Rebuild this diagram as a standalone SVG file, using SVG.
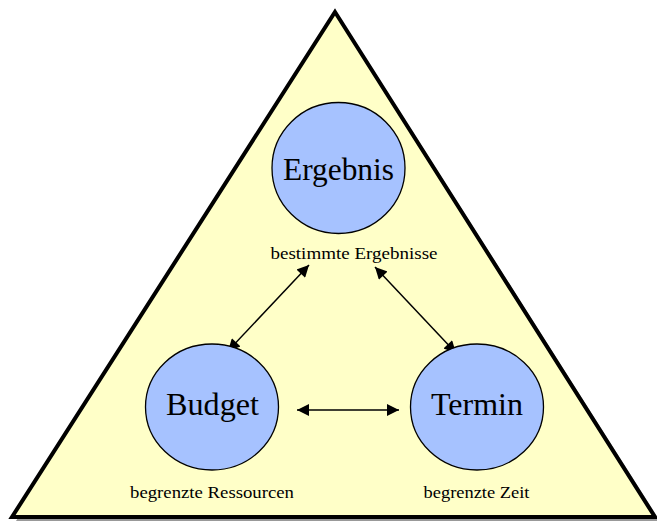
<svg xmlns="http://www.w3.org/2000/svg" width="657" height="522" viewBox="0 0 657 522">
  <defs>
    <marker id="arrow" viewBox="0 0 10 10" refX="10" refY="5" markerWidth="18" markerHeight="12" markerUnits="userSpaceOnUse" orient="auto-start-reverse">
      <path d="M0,0 L10,5 L0,10 z" fill="#000"/>
    </marker>
    <style>
      .node { fill: #a6c2ff; stroke: #000; stroke-width: 1.3; }
      .title { font-family: "Liberation Serif", serif; font-size: 31px; fill: #000; text-anchor: middle; }
      .note { font-family: "Liberation Serif", serif; font-size: 17.5px; fill: #000; text-anchor: middle; }
      .link { stroke: #000; stroke-width: 1.5; fill: none; marker-start: url(#arrow); marker-end: url(#arrow); }
    </style>
  </defs>

  <!-- background triangle with drop shadow -->
  <g id="triangle">
    <polygon points="339,16 660,521 16,521" fill="#999"/>
    <polygon points="335,12 655,517 12,517" fill="#ffffc8" stroke="#000" stroke-width="4" stroke-linejoin="miter"/>
  </g>

  <g id="connectors">
    <line class="link" x1="309" y1="265" x2="228" y2="351"/>
    <line class="link" x1="375" y1="267" x2="456" y2="353"/>
    <line class="link" x1="297" y1="410" x2="399" y2="410"/>
  </g>

  <g id="ergebnis">
    <ellipse class="node" cx="338.5" cy="168" rx="66.5" ry="65.5"/>
    <text class="title" x="338.5" y="180" textLength="111" lengthAdjust="spacingAndGlyphs">Ergebnis</text>
    <text class="note" x="354" y="259" textLength="167" lengthAdjust="spacingAndGlyphs">bestimmte Ergebnisse</text>
  </g>

  <g id="budget">
    <ellipse class="node" cx="212" cy="407" rx="66.5" ry="63"/>
    <text class="title" x="212.5" y="415" textLength="93" lengthAdjust="spacingAndGlyphs">Budget</text>
    <text class="note" x="212" y="498" textLength="164" lengthAdjust="spacingAndGlyphs">begrenzte Ressourcen</text>
  </g>

  <g id="termin">
    <ellipse class="node" cx="477" cy="407" rx="66.5" ry="63"/>
    <text class="title" x="477" y="415" textLength="92" lengthAdjust="spacingAndGlyphs">Termin</text>
    <text class="note" x="476.5" y="498" textLength="106" lengthAdjust="spacingAndGlyphs">begrenzte Zeit</text>
  </g>
</svg>
